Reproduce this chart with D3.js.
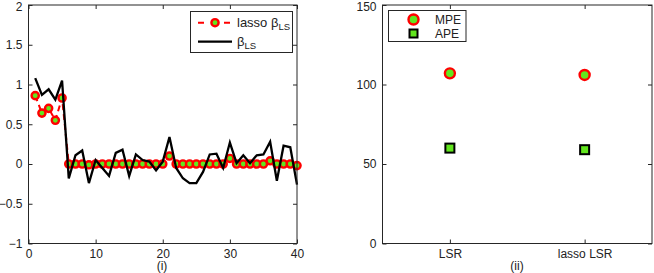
<!DOCTYPE html>
<html><head><meta charset="utf-8">
<script src="https://cdn.jsdelivr.net/npm/d3@7"></script>
<style>body{margin:0;background:#fff}svg{display:block}text{font-family:"Liberation Sans",Arial,sans-serif;fill:#222}</style>
</head><body><svg id="c" width="654" height="273"></svg>
<script>
// Left panel data
const idx = d3.range(1, 41);
const betaLS = [1.08,0.87,0.94,0.81,1.05,-0.18,0.11,0.17,-0.24,0.05,-0.05,-0.15,0.14,0.18,-0.15,0.12,0.05,0.03,-0.08,0.03,
  0.34,-0.05,-0.18,-0.24,-0.24,-0.10,0.12,0.13,-0.05,0.27,0.01,0.11,0.01,0.11,0.12,0.28,-0.21,0.23,0.21,-0.26];
const lassoBeta = [0.86,0.64,0.70,0.55,0.83,0,0,0,-0.01,0,0,0,0,0,0,0,0,0,0,0,
  0.10,0,0,0,0,0,0,0,0,0.07,0,0,0,0,0,0.04,0,0,0,-0.02];
const leftXTicks = [0,10,20,30,40];
const leftYTicks = [-1,-0.5,0,0.5,1,1.5,2];
// Right panel data
const methods = ["LSR","lasso LSR"];
const MPE = [107,106];
const APE = [60,59];
const rightYTicks = [0,50,100,150];

const svg = d3.select("#c");
const GREEN = "#62e61e";
const FS = 12;

function frame(g, x0, x1, y0, y1){
  g.append("rect").attr("x",x0).attr("y",y0).attr("width",x1-x0).attr("height",y1-y0)
   .attr("fill","none").attr("stroke","#262626").attr("stroke-width",1);
}

// ---------- Left ----------
const L = {l:28.5, r:297, t:5, b:243.5};
const xL = d3.scaleLinear().domain([0,40]).range([L.l,L.r]);
const yL = d3.scaleLinear().domain([-1,2]).range([L.b,L.t]);
const gL = svg.append("g");
gL.append("rect").attr("x",L.l).attr("y",L.t).attr("width",L.r-L.l).attr("height",L.b-L.t).attr("fill","#fff");

gL.append("g").attr("transform",`translate(0,${L.b})`)
  .call(d3.axisBottom(xL).tickValues(leftXTicks).tickSize(-4).tickPadding(5.5).tickFormat(d3.format("d")));
gL.append("g").attr("transform",`translate(0,${L.t})`)
  .call(d3.axisTop(xL).tickValues(leftXTicks).tickSize(-4).tickFormat(""));
const yAxL = gL.append("g").attr("transform",`translate(${L.l},0)`)
  .call(d3.axisLeft(yL).tickValues(leftYTicks).tickSize(-4).tickPadding(6).tickFormat(d=>d<0?"\u2212"+Math.abs(d):String(d)));
yAxL.selectAll(".tick text").filter(d=>d===2).attr("transform","translate(0,1.5)");
gL.append("g").attr("transform",`translate(${L.r},0)`)
  .call(d3.axisRight(yL).tickValues(leftYTicks).tickSize(-4).tickFormat(""));

const lineL = d3.line().x((d,i)=>xL(idx[i])).y(d=>yL(d));
gL.append("path").datum(lassoBeta).attr("d",lineL).attr("fill","none")
  .attr("stroke","#ff0000").attr("stroke-width",2).attr("stroke-dasharray","6,4");
gL.selectAll("circle.lm").data(lassoBeta).enter().append("circle").attr("class","lm")
  .attr("cx",(d,i)=>xL(idx[i])).attr("cy",d=>yL(d)).attr("r",3.6)
  .attr("fill",GREEN).attr("stroke","#ff0000").attr("stroke-width",2.4);
gL.append("path").datum(betaLS).attr("d",lineL).attr("fill","none")
  .attr("stroke","#000").attr("stroke-width",2.3).attr("stroke-linejoin","miter");

frame(gL, L.l, L.r, L.t, L.b);

const lg = gL.append("g");
lg.append("rect").attr("x",190.5).attr("y",11.5).attr("width",102).attr("height",41)
  .attr("fill","#fff").attr("stroke","#262626").attr("stroke-width",1);
lg.append("line").attr("x1",198).attr("x2",232).attr("y1",22.7).attr("y2",22.7)
  .attr("stroke","#ff0000").attr("stroke-width",2).attr("stroke-dasharray","6,7");
lg.append("circle").attr("cx",215).attr("cy",22.7).attr("r",3.6).attr("fill",GREEN).attr("stroke","#ff0000").attr("stroke-width",2.4);
lg.append("line").attr("x1",198).attr("x2",232).attr("y1",41.7).attr("y2",41.7)
  .attr("stroke","#000").attr("stroke-width",2.3);
const t1 = lg.append("text").attr("x",237).attr("y",27).attr("font-size",13);
t1.append("tspan").text("lasso \u03B2");
t1.append("tspan").attr("dy",3).attr("font-size",9.5).text("LS");
const t2 = lg.append("text").attr("x",237).attr("y",45.5).attr("font-size",13);
t2.append("tspan").text("\u03B2");
t2.append("tspan").attr("dy",3).attr("font-size",9.5).text("LS");

gL.append("text").attr("x",162).attr("y",270).attr("text-anchor","middle").attr("font-size",FS).text("(i)");

// ---------- Right ----------
const R = {l:382.5, r:652, t:5, b:243.5};
const xR = d3.scaleLinear().domain([0.5,2.5]).range([R.l,R.r]);
const yR = d3.scaleLinear().domain([0,150]).range([R.b,R.t]);
const gR = svg.append("g");
gR.append("g").attr("transform",`translate(0,${R.b})`)
  .call(d3.axisBottom(xR).tickValues([1,2]).tickSize(-4).tickPadding(5.5).tickFormat(d=>methods[d-1]));
gR.append("g").attr("transform",`translate(0,${R.t})`)
  .call(d3.axisTop(xR).tickValues([1,2]).tickSize(-4).tickFormat(""));
const yAxR = gR.append("g").attr("transform",`translate(${R.l},0)`)
  .call(d3.axisLeft(yR).tickValues(rightYTicks).tickSize(-4).tickPadding(6));
yAxR.selectAll(".tick text").filter(d=>d===150).attr("transform","translate(0,1.5)");
gR.append("g").attr("transform",`translate(${R.r},0)`)
  .call(d3.axisRight(yR).tickValues(rightYTicks).tickSize(-4).tickFormat(""));

gR.selectAll("circle.mpe").data(MPE).enter().append("circle").attr("class","mpe")
  .attr("cx",(d,i)=>xR(i+1)).attr("cy",d=>yR(d)).attr("r",5)
  .attr("fill",GREEN).attr("stroke","#ff0000").attr("stroke-width",2.4);
gR.selectAll("rect.ape").data(APE).enter().append("rect").attr("class","ape")
  .attr("x",(d,i)=>xR(i+1)-4.5).attr("y",d=>yR(d)-4.5).attr("width",9).attr("height",9)
  .attr("fill",GREEN).attr("stroke","#000").attr("stroke-width",2);

frame(gR, R.l, R.r, R.t, R.b);

const lr = gR.append("g");
lr.append("rect").attr("x",388.5).attr("y",10.5).attr("width",77.5).attr("height",31)
  .attr("fill","#fff").attr("stroke","#262626").attr("stroke-width",1);
lr.append("circle").attr("cx",413.5).attr("cy",19.5).attr("r",5).attr("fill",GREEN).attr("stroke","#ff0000").attr("stroke-width",2.4);
lr.append("rect").attr("x",409.5).attr("y",29.5).attr("width",8).attr("height",8).attr("fill",GREEN).attr("stroke","#000").attr("stroke-width",2);
lr.append("text").attr("x",435).attr("y",24).attr("font-size",FS).text("MPE");
lr.append("text").attr("x",435).attr("y",38).attr("font-size",FS).text("APE");

gR.append("text").attr("x",517).attr("y",270).attr("text-anchor","middle").attr("font-size",FS).text("(ii)");

svg.selectAll(".domain").remove();
svg.selectAll(".tick line").attr("stroke","#262626");
svg.selectAll(".tick text").attr("font-size",FS).attr("fill","#222").attr("font-family","\"Liberation Sans\",Arial,sans-serif");
</script></body></html>
